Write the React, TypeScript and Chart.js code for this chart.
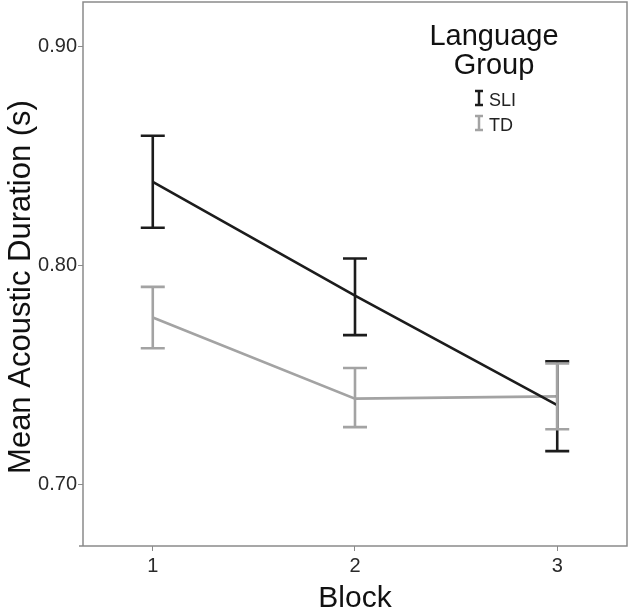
import React, { useEffect, useRef } from "react";
import { Chart, registerables } from "chart.js";

Chart.register(...registerables);

const blocks = [1, 2, 3];
const sliMean = [0.838, 0.786, 0.736];
const sliUpper = [0.859, 0.803, 0.756];
const sliLower = [0.817, 0.768, 0.715];
const tdMean = [0.776, 0.739, 0.740];
const tdUpper = [0.790, 0.753, 0.755];
const tdLower = [0.762, 0.726, 0.725];
const yTicks = [0.7, 0.8, 0.9];
const xTicks = [1, 2, 3];
const groupNames = ["SLI", "TD"];
const legendTitle = ["Language", "Group"];

const SLI_COLOR = "#1c1c1c";
const TD_COLOR = "#a3a3a3";
const AXIS_COLOR = "#8a8a8a";
const FONT = "'Liberation Sans', Arial, sans-serif";

const bounds = [
  { upper: sliUpper, lower: sliLower },
  { upper: tdUpper, lower: tdLower },
];

const errorBarPlugin = {
  id: "errorBars",
  afterDatasetsDraw(chart: any) {
    const { ctx, scales } = chart;
    const y = scales.y;
    chart.data.datasets.forEach((ds: any, i: number) => {
      const meta = chart.getDatasetMeta(i);
      const b = bounds[i];
      ctx.save();
      ctx.strokeStyle = ds.borderColor;
      ctx.lineWidth = 2.6;
      meta.data.forEach((pt: any, j: number) => {
        const x = pt.x;
        const yu = y.getPixelForValue(b.upper[j]);
        const yl = y.getPixelForValue(b.lower[j]);
        ctx.beginPath();
        ctx.moveTo(x, yu);
        ctx.lineTo(x, yl);
        ctx.moveTo(x - 12, yu);
        ctx.lineTo(x + 12, yu);
        ctx.moveTo(x - 12, yl);
        ctx.lineTo(x + 12, yl);
        ctx.stroke();
      });
      ctx.restore();
    });
  },
};

const framePlugin = {
  id: "frame",
  afterDraw(chart: any) {
    const { ctx, chartArea } = chart;
    const { left, right, top, bottom } = chartArea;
    ctx.save();
    ctx.strokeStyle = AXIS_COLOR;
    ctx.lineWidth = 1.5;
    ctx.beginPath();
    ctx.moveTo(left - 4, bottom);
    ctx.lineTo(right, bottom);
    ctx.lineTo(right, top);
    ctx.lineTo(left, top);
    ctx.lineTo(left, bottom);
    ctx.stroke();

    // axis titles
    ctx.fillStyle = "#111";
    ctx.font = `30px ${FONT}`;
    ctx.textAlign = "center";
    ctx.textBaseline = "middle";
    ctx.fillText("Block", (left + right) / 2, 599);
    ctx.save();
    ctx.translate(21, 287);
    ctx.rotate(-Math.PI / 2);
    ctx.font = `31px ${FONT}`;
    ctx.fillText("Mean Acoustic Duration (s)", 0, 0);
    ctx.restore();

    // legend
    ctx.font = `29px ${FONT}`;
    ctx.fillStyle = "#111";
    ctx.fillText(legendTitle[0], 494, 37);
    ctx.fillText(legendTitle[1], 494, 66);
    const colors = [SLI_COLOR, TD_COLOR];
    groupNames.forEach((name, i) => {
      const cy = 98 + i * 25;
      ctx.strokeStyle = colors[i];
      ctx.lineWidth = 2.5;
      ctx.beginPath();
      ctx.moveTo(479, cy - 7);
      ctx.lineTo(479, cy + 7);
      ctx.moveTo(475, cy - 7);
      ctx.lineTo(483, cy - 7);
      ctx.moveTo(475, cy + 7);
      ctx.lineTo(483, cy + 7);
      ctx.stroke();
      ctx.fillStyle = "#222";
      ctx.font = `18px ${FONT}`;
      ctx.textAlign = "left";
      ctx.fillText(name, 489, cy + 3);
    });
    ctx.restore();
  },
};

export default function App() {
  const ref = useRef<HTMLCanvasElement>(null);
  useEffect(() => {
    if (!ref.current) return;
    const chart = new Chart(ref.current, {
      type: "line",
      data: {
        datasets: [
          {
            label: groupNames[0],
            data: blocks.map((b, i) => ({ x: b, y: sliMean[i] })),
            borderColor: SLI_COLOR,
            borderWidth: 2.6,
            pointRadius: 0,
            tension: 0,
            order: 0,
          },
          {
            label: groupNames[1],
            data: blocks.map((b, i) => ({ x: b, y: tdMean[i] })),
            borderColor: TD_COLOR,
            borderWidth: 2.6,
            pointRadius: 0,
            tension: 0,
            order: 1,
          },
        ],
      },
      options: {
        responsive: false,
        animation: false,
        layout: { padding: { top: 2, right: 9, left: 0, bottom: 0 } },
        plugins: { legend: { display: false }, tooltip: { enabled: false } },
        scales: {
          x: {
            type: "linear",
            min: 0.655,
            max: 3.345,
            afterBuildTicks: (s: any) => {
              s.ticks = xTicks.map((v) => ({ value: v }));
            },
            afterFit: (s: any) => {
              s.height = 70;
              s.paddingLeft = 0;
              s.paddingRight = 0;
            },
            border: { display: false },
            grid: {
              drawOnChartArea: false,
              tickLength: 5,
              color: AXIS_COLOR,
              lineWidth: 1,
            },
            ticks: {
              color: "#2a2a2a",
              font: { size: 20, family: FONT },
              padding: 3,
              callback: (v: any) => String(v),
            },
          },
          y: {
            type: "linear",
            min: 0.6717,
            max: 0.9201,
            afterBuildTicks: (s: any) => {
              s.ticks = yTicks.map((v) => ({ value: v }));
            },
            afterFit: (s: any) => {
              s.width = 83;
              s.paddingTop = 0;
              s.paddingBottom = 0;
            },
            border: { display: false },
            grid: {
              drawOnChartArea: false,
              tickLength: 5,
              color: AXIS_COLOR,
              lineWidth: 1,
            },
            ticks: {
              color: "#2a2a2a",
              font: { size: 20, family: FONT },
              padding: 1,
              callback: (v: any) => Number(v).toFixed(2),
            },
          },
        },
      },
      plugins: [errorBarPlugin, framePlugin],
    } as any);
    return () => chart.destroy();
  }, []);
  return (
    <div style={{ position: "absolute", left: 0, top: 0, width: 636, height: 616, background: "#fff" }}>
      <canvas ref={ref} width={636} height={616} style={{ width: 636, height: 616 }} />
    </div>
  );
}
